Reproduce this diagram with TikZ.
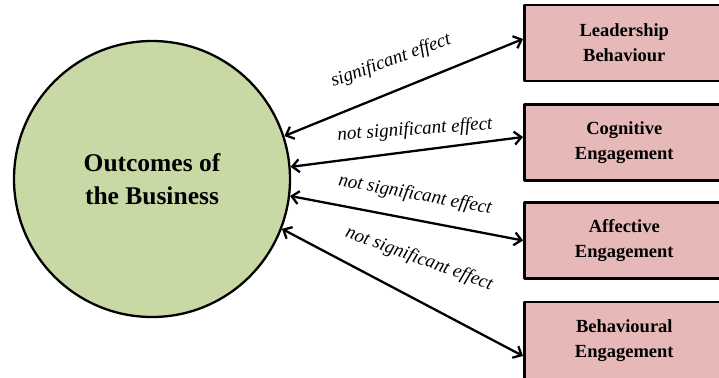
\documentclass[tikz,border=0pt]{standalone}
\usepackage{fontspec}
\setmainfont{Liberation Serif}
\usetikzlibrary{arrows.meta}
\usetikzlibrary{positioning}
\definecolor{circfill}{RGB}{201,217,166}
\definecolor{boxfill}{RGB}{230,185,184}

\begin{document}
\begin{tikzpicture}[x=1pt,y=-1pt,line cap=round,line join=round,
  >={Straight Barb[length=7pt,width=13pt]},
  outbox/.style={draw,line width=2.6pt,fill=boxfill,minimum width=200pt,minimum height=76pt,
    anchor=west,align=center,font=\fontsize{18.5}{25}\selectfont\bfseries},
  link/.style={<->,line width=2.3pt},
  effect/.style={font=\fontsize{19}{20}\selectfont\itshape,inner sep=0pt}]
\clip (0,0) rectangle (719,377);
\node [circle,draw,line width=2.3pt,fill=circfill,minimum size=276pt,align=center,
  font=\fontsize{25.5}{33}\selectfont\bfseries] (outcome) at (152,179) {Outcomes of\\the Business};
\node [outbox] (lead) at (523,43) {Leadership\\Behaviour};
\node [outbox] (cog) at (523,142.5) {Cognitive\\Engagement};
\node [outbox] (aff) at (523,240.5) {Affective\\Engagement};
\node [outbox,minimum height=78pt] (beh) at (523,341) {Behavioural\\Engagement};
\draw [link] (outcome.18.7) -- ([yshift=4pt]lead.west);
\draw [link] (outcome.5.7) -- ([yshift=5.5pt]cog.west);
\draw [link] (outcome.-7.3) -- (aff.west);
\draw [link] (outcome.-21.6) -- ([yshift=-15pt]beh.west);
\node [effect,rotate=20] (e1) at (391,61) {significant effect};
\node [effect,rotate=4] (e2) at (415,130) {not significant effect};
\node [effect,rotate=-10.5] (e3) at (415,195) {not significant effect};
\node [effect,rotate=-20] (e4) at (419,259) {not significant effect};
\end{tikzpicture}
\end{document}
